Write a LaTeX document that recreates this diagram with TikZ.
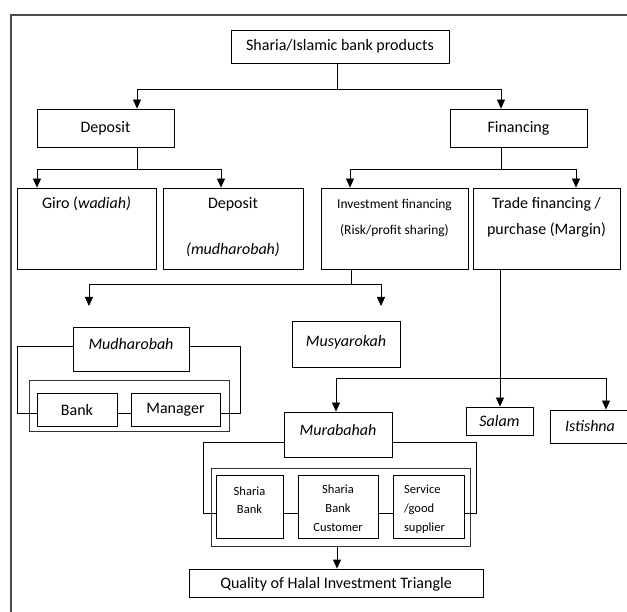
\documentclass[tikz,border=0pt]{standalone}
\usepackage{fontspec}
\setmainfont{Carlito}
\usepackage{tikz}
\usetikzlibrary{arrows.meta}
\usetikzlibrary{positioning}
\tikzset{
    mybox/.style = {draw=black, line width=0.8pt, inner sep=0pt, align=center},
    grpbox/.style = {draw=black!80, line width=1pt, inner sep=0pt},
    pageline/.style = {draw=black!70, line width=1.3pt},
    toplabel/.style = {anchor=north, inner sep=0pt, align=center},
}

\begin{document}
\begin{tikzpicture}[
	x=1pt,
	y=-1pt,
	font=\fontsize{16}{19.5}\selectfont
]
\tikzset{
    edgen/.style = {-, line width=0.8pt},
    edgea/.style = {-{Triangle[length=9pt,width=8pt]}, line width=0.8pt},
}
\useasboundingbox (0,0) rectangle (627,612);
\draw[pageline] (11,612) -- (11,15) -- (627,15);
\node[mybox, minimum width=218pt, minimum height=33pt] at (340,46.5) (top) {Sharia/Islamic bank products};
\node[mybox, minimum width=137pt, minimum height=38pt] at (105.5,128) (deposit) {Deposit};
\node[mybox, minimum width=137pt, minimum height=38pt] at (518.5,128) (financing) {Financing};
\node[mybox, minimum width=139pt, minimum height=81pt,
    label={[toplabel, yshift=-9pt]north:Giro (\textit{wadiah)}}] at (86.5,228.5) (giro) {};
\node[mybox, minimum width=140pt, minimum height=81pt,
    label={[toplabel, yshift=-10pt]north:Deposit\\[26.5pt]\textit{(mudharobah)}}] at (233,228.5) (depmud) {};
\node[mybox, minimum width=147pt, minimum height=81pt,
    label={[toplabel, yshift=-11pt, font=\fontsize{13.5}{26}\selectfont]north:Investment financing\\(Risk/profit sharing)}] at (394.5,228.5) (invest) {};
\node[mybox, minimum width=147pt, minimum height=81pt,
    label={[toplabel, yshift=-10pt, font=\fontsize{16}{26}\selectfont]north:Trade financing /\\purchase (Margin)}] at (546.5,228.5) (trade) {};
\node[mybox, minimum width=116pt, minimum height=44pt,
    label={[toplabel, yshift=-11.5pt]north:\textit{Mudharobah}}] at (131,349) (mudharobah) {};
\node[mybox, minimum width=108pt, minimum height=46pt,
    label={[toplabel, yshift=-15pt]north:\textit{Musyarokah}}] at (346,344) (musyarokah) {};
\node[grpbox, minimum width=200pt, minimum height=51pt] at (129,406.5) (mudgroup) {};
\node[mybox, minimum width=80pt, minimum height=33pt] at (77,410) (bank) {Bank};
\node[mybox, minimum width=89pt, minimum height=33pt] at (175.5,410) (manager) {Manager};
\node[mybox, minimum width=108pt, minimum height=45pt,
    label={[toplabel, yshift=-12.5pt]north:\textit{Murabahah}}] at (338,434.5) (murabahah) {};
\node[mybox, minimum width=67pt, minimum height=28pt, text depth=-2pt] at (499.5,421) (salam) {\textit{Salam}};
\node[mybox, minimum width=80pt, minimum height=33pt] at (590,426.5) (istishna) {\textit{Istishna}};
\node[grpbox, minimum width=259pt, minimum height=78pt] at (340.5,507) (murgroup) {};
\node[mybox, minimum width=67pt, minimum height=63pt, font=\fontsize{12.5}{18}\selectfont,
    label={[toplabel, yshift=-12pt, font=\fontsize{12.5}{18}\selectfont]north:Sharia\\Bank}] at (249.5,507) (sbank) {};
\node[mybox, minimum width=80pt, minimum height=63pt, font=\fontsize{12.5}{19}\selectfont,
    label={[toplabel, yshift=-10pt, font=\fontsize{12.5}{19}\selectfont]north:Sharia\\Bank\\Customer}] at (338,507) (sbcust) {};
\node[mybox, minimum width=71pt, minimum height=63pt, font=\fontsize{12.5}{19}\selectfont,
    label={[toplabel, align=left, xshift=-4pt, yshift=-10pt, font=\fontsize{12.5}{19}\selectfont]north:Service\\/good\\supplier}] at (428.5,507) (service) {};
\node[mybox, minimum width=294pt, minimum height=28pt, text depth=-3pt] at (336,583) (quality) {Quality of Halal Investment Triangle};
\coordinate (mudtip) at (89,306);
\coordinate (musytip) at (381,306);
\draw[edgea] ([xshift=-3pt]top.south) -- ++(0,26) -| ([xshift=31.5pt]deposit.north);
\draw[edgea] ([xshift=-3pt]top.south) -- ++(0,26) -| ([xshift=-17.5pt]financing.north);
\draw[edgea] ([xshift=31.5pt]deposit.south) -- ++(0,22) -| ([xshift=-49.5pt]giro.north);
\draw[edgea] ([xshift=31.5pt]deposit.south) -- ++(0,22) -| ([xshift=-12pt]depmud.north);
\draw[edgea] ([xshift=-17.5pt]financing.south) -- ++(0,22) -| ([xshift=-44.5pt]invest.north);
\draw[edgea] ([xshift=-17.5pt]financing.south) -- ++(0,22) -| ([xshift=29.5pt]trade.north);
\draw[edgea] ([xshift=-43.5pt]invest.south) -- ++(0,15) -| (mudtip);
\draw[edgea] ([xshift=-43.5pt]invest.south) -- ++(0,15) -| (musytip);
\draw[edgea] ([xshift=-46.5pt]trade.south) -- ([xshift=0.5pt]salam.north);
\draw[edgea] ([xshift=-46.5pt]trade.south) -- ++(0,109) -| ([xshift=-2pt]murabahah.north);
\draw[edgea] ([xshift=-46.5pt]trade.south) -- ++(0,109) -| ([xshift=16pt]istishna.north);
\draw[edgen] ([yshift=3pt]mudharobah.west) -- ++(-55,0) |- ([yshift=-3pt]bank.west);
\draw[edgen] ([yshift=3pt]mudharobah.east) -- ++(51,0) |- ([yshift=-3pt]manager.east);
\draw[edgen] ([yshift=-3.5pt]bank.east) -- ([yshift=-3.5pt]manager.west);
\draw[edgen] ([yshift=-7.5pt]murabahah.west) -- ++(-80,0) |- ([yshift=-6pt]sbank.west);
\draw[edgen] ([yshift=-7.5pt]murabahah.east) -- ++(84,0) |- ([yshift=-6pt]service.east);
\draw[edgen] ([yshift=-6pt]sbank.east) -- ([yshift=-6pt]sbcust.west);
\draw[edgen] ([yshift=-6pt]sbcust.east) -- ([yshift=-6pt]service.west);
\draw[edgea] ([xshift=-3.5pt]murgroup.south) -- ([xshift=1pt]quality.north);

\end{tikzpicture}
\end{document}
